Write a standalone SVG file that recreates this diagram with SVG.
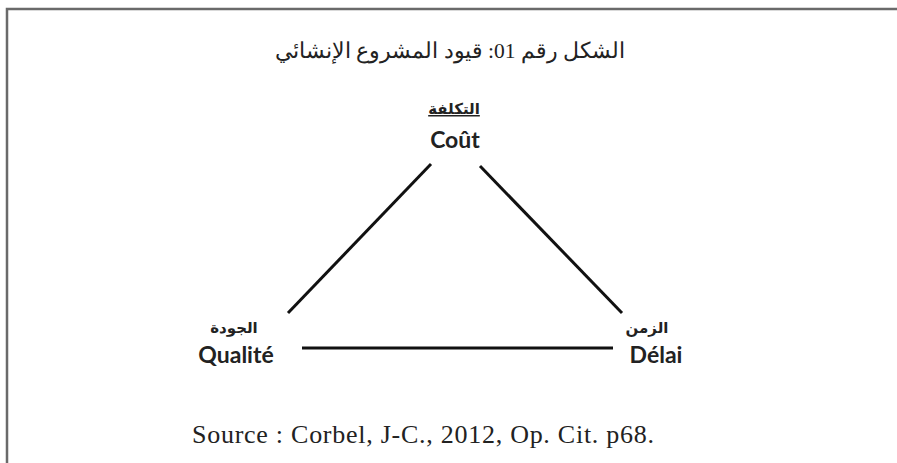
<svg xmlns="http://www.w3.org/2000/svg" width="897" height="463" viewBox="0 0 897 463">
<style>
.frame{stroke:#6a6a6a;stroke-width:2.5;fill:none}
.edge{stroke:#111;stroke-width:3;stroke-linecap:butt}
.ar{font-family:"Liberation Serif","Noto Sans",serif;fill:#222}
.arb{font-family:"Noto Sans","DejaVu Sans",sans-serif;font-weight:bold;fill:#222;font-size:15px}
.lat{font-family:Lato,"Open Sans",sans-serif;font-weight:bold;fill:#222;font-size:23px}
.src{font-family:"Liberation Serif",serif;fill:#222;font-size:26px}
</style>
<rect width="897" height="463" fill="#fff"/>
<path class="frame" d="M7,463 V9 H897"/>
<text class="ar" x="450" y="58" text-anchor="middle" font-size="21.5" direction="rtl">الشكل رقم 01: قيود المشروع الإنشائي</text>
<g id="edges">
<line class="edge" x1="431" y1="164" x2="288" y2="313"/>
<line class="edge" x1="480" y1="166" x2="622" y2="313"/>
<line class="edge" x1="302" y1="348" x2="613" y2="348"/>
</g>
<g id="cout">
<text class="arb" x="454" y="114" text-anchor="middle" direction="rtl" text-decoration="underline">التكلفة</text>
<text class="lat" x="455" y="148" text-anchor="middle">Coût</text>
</g>
<g id="qualite">
<text class="arb" x="234" y="333" text-anchor="middle" direction="rtl">الجودة</text>
<text class="lat" x="236" y="363" text-anchor="middle">Qualité</text>
</g>
<g id="delai">
<text class="arb" x="647" y="333" text-anchor="middle" direction="rtl">الزمن</text>
<text class="lat" x="656" y="363" text-anchor="middle">Délai</text>
</g>
<text class="src" x="192" y="443" textLength="462" lengthAdjust="spacing">Source : Corbel, J-C., 2012, Op. Cit. p68.</text>
</svg>
